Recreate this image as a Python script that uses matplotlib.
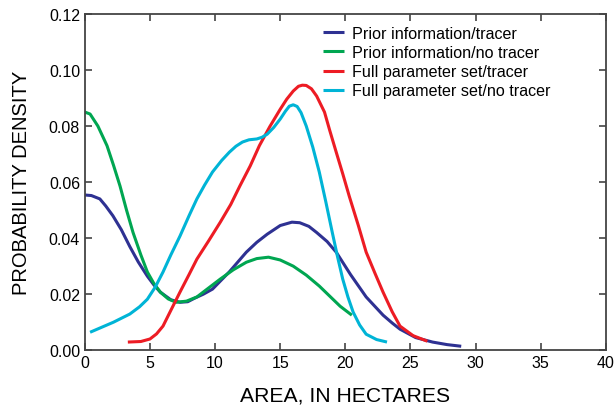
import matplotlib
matplotlib.use('Agg')
import matplotlib.pyplot as plt

plt.rcParams['font.family'] = ['Liberation Sans', 'DejaVu Sans']

# Prior information / tracer
prior_tr_x = [0, 0.5, 1.15, 1.6, 2.15, 2.8, 3.45, 4.1, 4.8, 5.3, 5.8, 6.6, 7.3, 7.9, 8.4, 9.1, 9.8, 11.1, 12.4, 13.2, 14.0, 15.0, 15.9, 16.5, 17.2, 17.8, 18.6, 19.3, 20.4, 21.6, 22.9, 23.6, 24.2, 25.4, 26.7, 27.8, 28.9]
prior_tr_y = [0.0554, 0.0552, 0.054, 0.0515, 0.048, 0.043, 0.037, 0.0315, 0.0264, 0.0233, 0.0207, 0.018, 0.0171, 0.0173, 0.0185, 0.020, 0.0218, 0.028, 0.035, 0.0385, 0.0414, 0.0445, 0.0457, 0.0455, 0.0442, 0.042, 0.0388, 0.035, 0.027, 0.019, 0.0125, 0.0097, 0.0075, 0.0045, 0.0029, 0.002, 0.0014]

# Prior information / no tracer
prior_no_x = [0, 0.4, 1.0, 1.7, 2.2, 2.7, 3.2, 3.7, 4.3, 4.8, 5.3, 5.8, 6.4, 7.0, 7.8, 8.6, 9.5, 10.4, 11.4, 12.4, 13.2, 14.1, 15.0, 16.0, 17.0, 18.0, 18.8, 19.6, 20.5]
prior_no_y = [0.085, 0.0843, 0.080, 0.073, 0.066, 0.0586, 0.050, 0.042, 0.034, 0.0279, 0.0238, 0.0207, 0.0183, 0.0171, 0.0175, 0.019, 0.0222, 0.0254, 0.0287, 0.0314, 0.0327, 0.0332, 0.0322, 0.030, 0.0268, 0.0229, 0.0193, 0.0157, 0.0125]

# Full parameter set / tracer
full_tr_x = [3.3, 4.3, 5.0, 5.5, 6.0, 6.6, 7.3, 8.0, 8.6, 9.5, 10.4, 11.2, 11.9, 12.7, 13.4, 14.2, 15.0, 15.5, 16.0, 16.4, 16.7, 17.0, 17.4, 17.8, 18.4, 18.8, 19.3, 19.8, 20.3, 21.0, 21.6, 22.3, 22.9, 23.6, 24.2, 25.2, 26.3]
full_tr_y = [0.0029, 0.0031, 0.004, 0.0058, 0.0086, 0.0142, 0.0207, 0.027, 0.0325, 0.039, 0.0457, 0.052, 0.0586, 0.0658, 0.073, 0.0798, 0.086, 0.0896, 0.0925, 0.0942, 0.0946, 0.0945, 0.0933, 0.0907, 0.085, 0.0785, 0.0707, 0.063, 0.055, 0.0445, 0.035, 0.0272, 0.0207, 0.0137, 0.0086, 0.0052, 0.0032]

# Full parameter set / no tracer
full_no_x = [0.4, 1.2, 2.2, 3.45, 4.2, 4.8, 5.4, 6.0, 6.6, 7.3, 8.0, 8.6, 9.2, 9.8, 10.5, 11.1, 11.6, 12.1, 12.6, 13.2, 13.6, 14.0, 14.5, 15.0, 15.4, 15.7, 16.0, 16.3, 16.6, 17.0, 17.5, 18.0, 18.5, 19.0, 19.4, 19.8, 20.2, 20.6, 21.1, 21.6, 22.4, 23.2]
full_no_y = [0.0064, 0.008, 0.010, 0.0129, 0.0155, 0.0182, 0.0225, 0.0279, 0.034, 0.0407, 0.048, 0.054, 0.059, 0.0636, 0.0677, 0.0707, 0.0728, 0.0743, 0.0751, 0.0754, 0.076, 0.0771, 0.0795, 0.0825, 0.0853, 0.0871, 0.0876, 0.087, 0.0848, 0.080, 0.0725, 0.0636, 0.053, 0.042, 0.0334, 0.0254, 0.019, 0.0136, 0.009, 0.0057, 0.0038, 0.0029]

series = [
    (prior_tr_x, prior_tr_y, '#2e3192', 'Prior information/tracer'),
    (prior_no_x, prior_no_y, '#00a651', 'Prior information/no tracer'),
    (full_tr_x, full_tr_y, '#ed1c24', 'Full parameter set/tracer'),
    (full_no_x, full_no_y, '#00b4d6', 'Full parameter set/no tracer'),
]

fig = plt.figure(figsize=(6.15, 4.06), dpi=100)
ax = fig.add_axes([0.138, 0.135, 0.847, 0.828])

for x, y, c, lab in series:
    ax.plot(x, y, color=c, linewidth=2.2, label=lab,
            solid_capstyle='butt', solid_joinstyle='round')

ax.set_xlim(0, 40)
ax.set_ylim(0, 0.12)
ax.set_xticks(range(0, 41, 5))
ax.set_yticks([0, 0.02, 0.04, 0.06, 0.08, 0.10, 0.12])
ax.set_yticklabels(['0.00', '0.02', '0.04', '0.06', '0.08', '0.10', '0.12'])
ax.tick_params(direction='in', top=True, right=True, length=5, width=1.2,
               labelsize=11.5, color='#444444')
for s in ax.spines.values():
    s.set_linewidth(1.3)
    s.set_color('#444444')

ax.set_xlabel('AREA, IN HECTARES', fontsize=15.2, labelpad=11)
ax.set_ylabel('PROBABILITY DENSITY', fontsize=14.5, labelpad=13)

ax.legend(loc='upper left', bbox_to_anchor=(0.43, 1.008), frameon=False,
          fontsize=11.6, handlelength=1.3, handletextpad=0.5, labelspacing=0.26)

fig.savefig('out.png', dpi=100)
